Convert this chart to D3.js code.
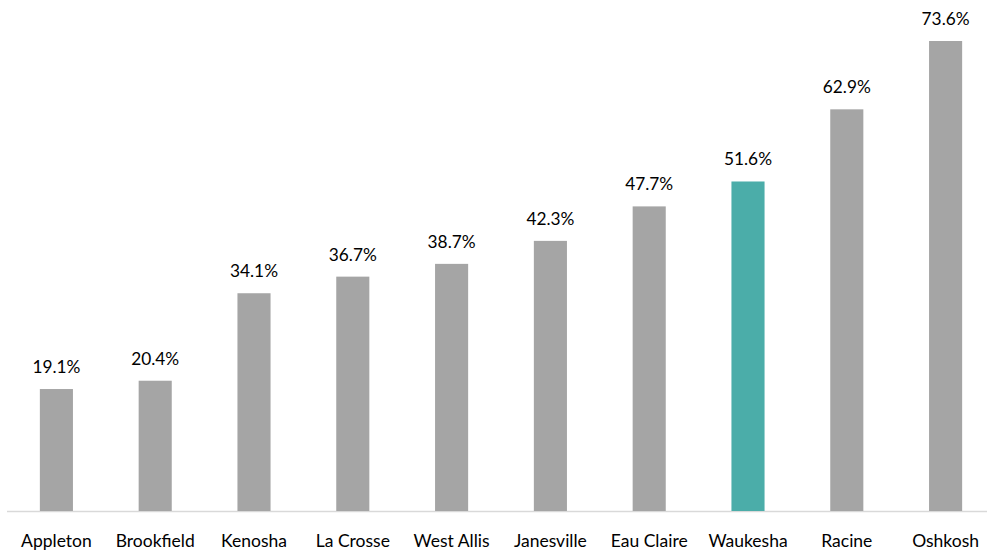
<!DOCTYPE html>
<html><head><meta charset="utf-8">
<script src="https://cdn.jsdelivr.net/npm/d3@7"></script>
<style>body{margin:0;background:#fff}svg{display:block}text{font-family:Lato,"Open Sans",sans-serif;fill:#000}</style>
</head><body>
<svg id="c" width="987" height="552"></svg>
<script>
const categories = ["Appleton","Brookfield","Kenosha","La Crosse","West Allis","Janesville","Eau Claire","Waukesha","Racine","Oshkosh"];
const values = [19.1,20.4,34.1,36.7,38.7,42.3,47.7,51.6,62.9,73.6];
const highlight = "Waukesha";

const svg = d3.select("#c");
const x = d3.scaleBand().domain(categories).range([7, 995]).paddingInner(0.665).paddingOuter(0.3325);
const y = d3.scaleLinear().domain([0, 73.6]).range([511, 41]);

// fit font sizes to the reference text widths
function fit(str, target){
  const t = svg.append("text").attr("font-size",20).text(str);
  const w = t.node().getComputedTextLength(); t.remove();
  return 20 * target / w;
}
const valSize = Math.min(19, fit("62.9%", 48));
const labSize = Math.min(19, fit("West Allis", 76));

svg.append("line").attr("x1",7).attr("x2",995).attr("y1",511.5).attr("y2",511.5)
  .attr("stroke","#d9d9d9").attr("stroke-width",1.5);

svg.selectAll("rect.bar").data(categories).join("rect").attr("class","bar")
  .attr("x", d => x(d)).attr("width", x.bandwidth())
  .attr("y", (d,i) => y(values[i])).attr("height", (d,i) => y(0) - y(values[i]))
  .attr("fill", d => d === highlight ? "#4bada9" : "#a5a5a5");

svg.selectAll("text.val").data(categories).join("text").attr("class","val")
  .attr("x", d => x(d) + x.bandwidth()/2).attr("y", (d,i) => y(values[i]) - 16)
  .attr("text-anchor","middle").attr("font-size",valSize)
  .text((d,i) => values[i].toFixed(1) + "%");

const ax = d3.axisBottom(x).tickSize(0).tickPadding(0);
const g = svg.append("g").attr("transform","translate(0,511)").call(ax);
g.select(".domain").remove();
g.selectAll("text").attr("font-size",labSize).attr("dy",null).attr("y",36)
  .style("font-family","Lato,'Open Sans',sans-serif").attr("fill","#000");
</script>
</body></html>
